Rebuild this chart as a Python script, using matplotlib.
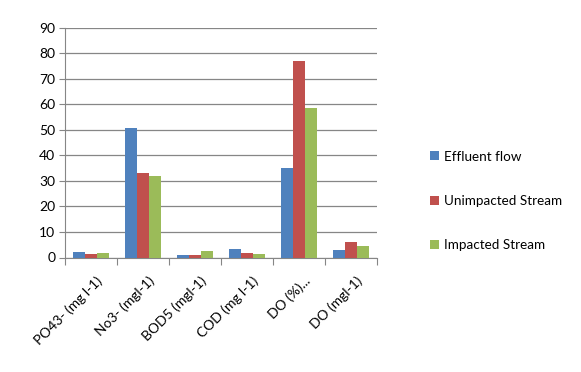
import matplotlib
matplotlib.use("Agg")
import matplotlib.pyplot as plt
import numpy as np

categories = ["PO43- (mg l-1)", "No3- (mgl-1)", "BOD5 (mgl-1)", "COD (mg l-1)", "DO (%)...", "DO (mgl-1)"]
series_names = ["Effluent flow", "Unimpacted Stream", "Impacted Stream"]
effluent = [2.0, 50.7, 1.0, 3.3, 35.0, 2.8]
unimpacted = [1.5, 33.0, 1.0, 1.7, 77.0, 6.0]
impacted = [1.8, 32.0, 2.7, 1.5, 58.5, 4.5]
colors = ["#4F81BD", "#C0504D", "#9BBB59"]
yticks = [0, 10, 20, 30, 40, 50, 60, 70, 80, 90]

plt.rcParams['font.family'] = ['Lato', 'DejaVu Sans']
fig = plt.figure(figsize=(5.81, 3.72), dpi=100)
ax = fig.add_axes([65/581, 1 - 257.5/372, (377-65)/581, (257.5-27.7)/372])

x = np.arange(len(categories))
w = 0.225
for i, (vals, name) in enumerate(zip([effluent, unimpacted, impacted], series_names)):
    ax.bar(x + (i - 1) * w, vals, width=w, color=colors[i], label=name, zorder=3)

ax.set_xlim(-0.5, len(categories) - 0.5)
ax.set_ylim(0, 90)
ax.set_yticks(yticks)
ax.set_yticklabels([str(t) for t in yticks], fontsize=10)
ax.yaxis.grid(True, color="#868686", linewidth=0.9, zorder=0)
ax.set_xticks(np.arange(-0.5, len(categories) + 0.5, 1), minor=False)
ax.set_xticklabels([])
ax.set_xticks(x + 0.1, minor=True)
ax.set_xticklabels(categories, minor=True, rotation=45, ha="right", rotation_mode="anchor", fontsize=10)
ax.tick_params(axis="x", which="minor", length=0, pad=12)
ax.tick_params(axis="x", which="major", length=5, color="#868686")
ax.tick_params(axis="y", length=4, color="#868686", pad=3)
for s in ["top", "right"]:
    ax.spines[s].set_visible(False)
for s in ["left", "bottom"]:
    ax.spines[s].set_color("#868686")

handles, labels = ax.get_legend_handles_labels()
fig.legend(handles, labels, loc="center left", bbox_to_anchor=(418/581, 1 - 201/372),
           frameon=False, fontsize=9.7, handlelength=0.65, handleheight=0.65,
           handletextpad=0.35, labelspacing=2.4)

fig.savefig("out.png", dpi=100)
